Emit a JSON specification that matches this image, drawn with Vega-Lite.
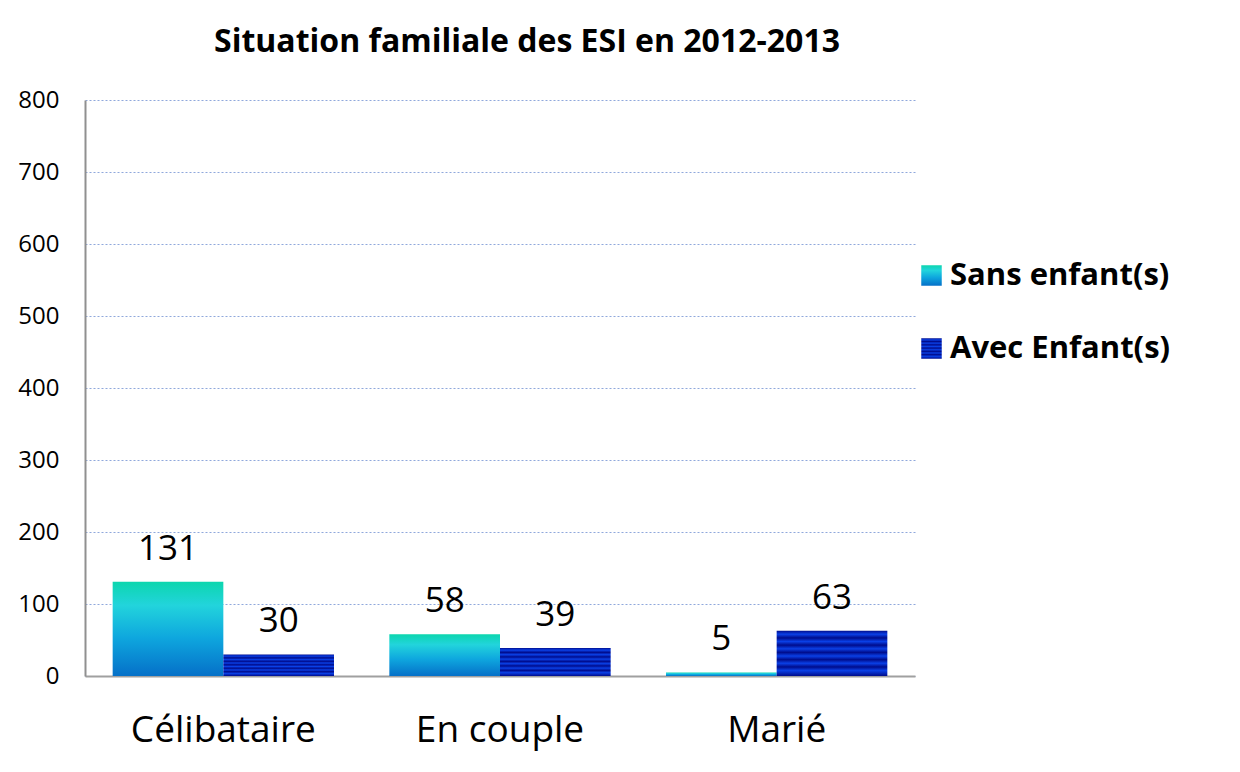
{
  "$schema": "https://vega.github.io/schema/vega-lite/v6.json",
  "autosize": "none",
  "width": 830,
  "height": 576,
  "padding": {"left": 85, "top": 100, "right": 325, "bottom": 96},
  "background": "white",
  "title": {
    "text": "Situation familiale des ESI en 2012-2013",
    "font": "Open Sans",
    "fontSize": 32,
    "fontWeight": "bold",
    "color": "black",
    "anchor": "middle",
    "dx": 27,
    "offset": 29
  },
  "data": {
    "values": [
      {"cat": "Célibataire", "serie": "Sans enfant(s)", "value": 131},
      {"cat": "Célibataire", "serie": "Avec Enfant(s)", "value": 30},
      {"cat": "En couple", "serie": "Sans enfant(s)", "value": 58},
      {"cat": "En couple", "serie": "Avec Enfant(s)", "value": 39},
      {"cat": "Marié", "serie": "Sans enfant(s)", "value": 5},
      {"cat": "Marié", "serie": "Avec Enfant(s)", "value": 63}
    ]
  },
  "encoding": {
    "x": {
      "field": "cat",
      "type": "nominal",
      "sort": ["Célibataire", "En couple", "Marié"],
      "scale": {"paddingInner": 0.2, "paddingOuter": 0.1},
      "axis": {
        "title": null,
        "labelAngle": 0,
        "labelFont": "Open Sans",
        "labelFontSize": 37,
        "labelColor": "black",
        "labelPadding": 36,
        "labelLimit": 500,
        "ticks": false,
        "domainColor": "#a0a0a0",
        "domainWidth": 2
      }
    },
    "xOffset": {
      "field": "serie",
      "type": "nominal",
      "sort": ["Sans enfant(s)", "Avec Enfant(s)"],
      "scale": {"paddingInner": 0, "paddingOuter": 0}
    },
    "y": {
      "field": "value",
      "type": "quantitative",
      "scale": {"domain": [0, 800]},
      "axis": {
        "title": null,
        "values": [0, 100, 200, 300, 400, 500, 600, 700, 800],
        "labelFont": "Open Sans",
        "labelFontSize": 24,
        "labelColor": "black",
        "labelPadding": 26,
        "ticks": false,
        "domainColor": "#909090",
        "domainWidth": 2,
        "gridColor": "#8fa8dc",
        "gridDash": [2, 2],
        "gridWidth": 1.2
      }
    }
  },
  "layer": [
    {
      "mark": {"type": "bar"},
      "encoding": {
        "fill": {
          "field": "serie",
          "type": "nominal",
          "sort": ["Sans enfant(s)", "Avec Enfant(s)"],
          "scale": {
            "domain": ["Sans enfant(s)", "Avec Enfant(s)"],
            "range": [
              {"expr": "{gradient: 'linear', x1: 0, y1: 0, x2: 0, y2: 1, stops: [{offset: 0, color: '#0cd6ae'}, {offset: 0.25, color: '#22d4dc'}, {offset: 0.6, color: '#0ea6de'}, {offset: 1, color: '#0570c8'}]}"},
              {"expr": "{gradient: 'linear', x1: 0, y1: 0, x2: 0, y2: 1, stops: [{offset: 0, color: '#000c8c'}, {offset: 0.08, color: '#0a40e6'}, {offset: 0.16, color: '#000c8c'}, {offset: 0.24, color: '#0a40e6'}, {offset: 0.32, color: '#000c8c'}, {offset: 0.4, color: '#0a40e6'}, {offset: 0.48, color: '#000c8c'}, {offset: 0.56, color: '#0a40e6'}, {offset: 0.64, color: '#000c8c'}, {offset: 0.72, color: '#0a40e6'}, {offset: 0.8, color: '#000c8c'}, {offset: 0.88, color: '#0a40e6'}, {offset: 1, color: '#000c8c'}]}"}
            ]
          },
          "legend": {
            "title": null,
            "orient": "none",
            "legendX": 831,
            "legendY": 160,
            "symbolType": "square",
            "symbolSize": 420,
            "symbolStrokeWidth": 0,
            "symbolOpacity": 1,
            "labelFont": "Open Sans",
            "labelFontSize": 31,
            "labelFontWeight": "bold",
            "labelColor": "black",
            "labelOffset": 3,
            "labelLimit": 400,
            "rowPadding": 41
          }
        }
      }
    },
    {
      "mark": {
        "type": "text",
        "baseline": "alphabetic",
        "dy": -22,
        "font": "Open Sans",
        "fontSize": 35,
        "color": "black"
      },
      "encoding": {
        "text": {"field": "value", "type": "quantitative"}
      }
    }
  ],
  "config": {
    "view": {"stroke": null}
  }
}
